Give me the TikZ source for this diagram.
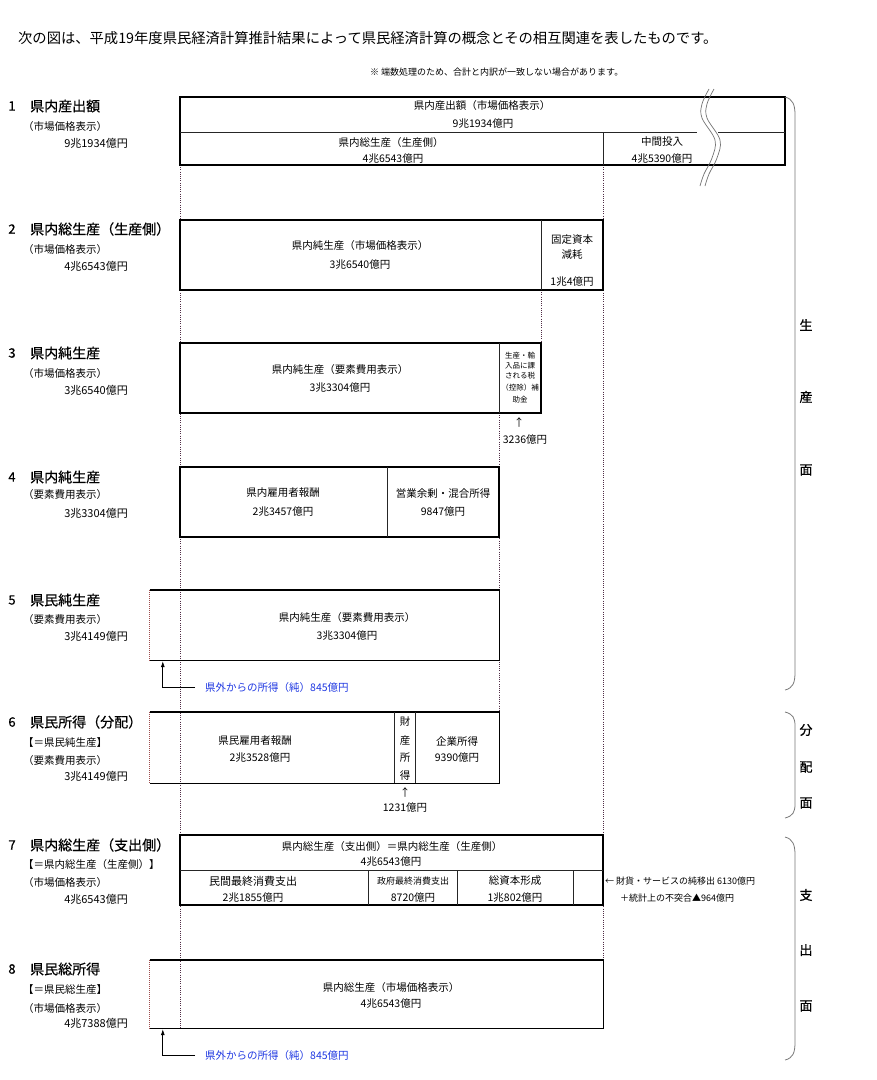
\documentclass[tikz,border=0pt]{standalone}
\usepackage{fontspec}
\newfontfamily\jp{Noto Sans CJK JP}
\newfontfamily\jpb[FakeBold=0.6]{Noto Sans CJK JP}
\usetikzlibrary{arrows.meta}
\definecolor{linkblue}{RGB}{30,55,225}
\definecolor{dotc}{RGB}{80,45,70}
\definecolor{brc}{RGB}{120,120,120}
\begin{document}
\begin{tikzpicture}[x=1pt,y=-1pt,
  tx/.style={font=\jp\fontsize{10.5}{12}\selectfont, inner sep=0pt},
  sm/.style={font=\jp\fontsize{9}{10}\selectfont, inner sep=0pt},
  tny/.style={font=\jp\fontsize{7.5}{9}\selectfont, inner sep=0pt},
  ttl/.style={font=\jpb\fontsize{14}{16}\selectfont, inner sep=0pt, anchor=west},
  sublbl/.style={font=\jp\fontsize{10.5}{12}\selectfont, inner sep=0pt, anchor=west},
  amt/.style={font=\jp\fontsize{11}{12}\selectfont, inner sep=0pt, anchor=east},
  numl/.style={font=\jpb\fontsize{13}{14}\selectfont, inner sep=0pt},
  blu/.style={font=\jp\fontsize{10.5}{12}\selectfont, inner sep=0pt, anchor=west, text=linkblue},
  bx/.style={draw=black, line width=1.4pt, inner sep=0pt},
  bxn/.style={inner sep=0pt},
  bxline/.style={draw=black, line width=1.4pt},
  dv/.style={draw=black!85, line width=0.7pt},
  dotl/.style={draw=dotc, line width=0.7pt, dash pattern=on 1pt off 1.2pt},
  dotm/.style={draw=red!45!black!70, line width=0.9pt, dash pattern=on 1pt off 1pt},
  arr/.style={draw=black, line width=0.7pt, -{Latex[length=6pt,width=4pt]}},
  brline/.style={draw=brc, line width=0.8pt},
  wav/.style={draw=black!55, line width=0.7pt},
  sidel/.style={font=\jpb\fontsize{13}{14}\selectfont, inner sep=0pt},
]
\useasboundingbox (0,0) rectangle (877,1080);

% header
\node[font=\jp\fontsize{14.3}{16}\selectfont, inner sep=0pt, anchor=west] (hdr) at (18,38)
  {次の図は、平成19年度県民経済計算推計結果によって県民経済計算の概念とその相互関連を表したものです。};
\node[sm, anchor=west] (note) at (370,72) {※ 端数処理のため、合計と内訳が一致しない場合があります。};

% dotted guide lines
\draw[dotl] (180,165) -- (180,1028);
\draw[dotl] (603,165) -- (603,960);
\draw[dotl] (541,290) -- (541,343);
\draw[dotl] (499,413) -- (499,712);

% ---------- Row 1
\node[bx, minimum width=605pt, minimum height=68pt] (b1) at (482.5,131) {};
\draw[dv] (180,132) -- (697,132);
\draw[dv] (718,132) -- (785,132);
\draw[dv] (603,132) -- (603,165);
\node[tx] (t1a) at (482,106) {県内産出額（市場価格表示）};
\node[tx] (t1b) at (483,124) {9兆1934億円};
\node[tx] (t1c) at (391,143) {県内総生産（生産側）};
\node[tx] (t1d) at (393,159) {4兆6543億円};
\node[tx] (t1e) at (662,142) {中間投入};
\node[tx] (t1f) at (662,159) {4兆5390億円};
\draw[wav] plot[smooth, tension=0.6] coordinates {(709,89) (702,104) (702,118) (715,140) (712,158) (704,174) (700,186)};
\draw[wav] plot[smooth, tension=0.6] coordinates {(714,89) (707,104) (707,118) (720,140) (717,158) (709,174) (705,186)};

\node[numl] (n1) at (12,106) {1};
\node[ttl] (l1) at (30,106) {県内産出額};
\node[sublbl] (s1) at (23,127) {（市場価格表示）};
\node[amt] (a1) at (128,143) {9兆1934億円};

% ---------- Row 2
\node[bx, minimum width=423pt, minimum height=70pt] (b2) at (391.5,255) {};
\draw[dv] (541,220) -- (541,290);
\node[tx] (t2a) at (360,246) {県内純生産（市場価格表示）};
\node[tx] (t2b) at (360,265) {3兆6540億円};
\node[tx] (t2c) at (572,240) {固定資本};
\node[tx] (t2d) at (572,255) {減耗};
\node[tx] (t2e) at (572,282) {1兆4億円};

\node[numl] (n2) at (12,229) {2};
\node[ttl] (l2) at (30,229) {県内総生産（生産側）};
\node[sublbl] (s2) at (23,250) {（市場価格表示）};
\node[amt] (a2) at (128,266) {4兆6543億円};

% ---------- Row 3
\node[bx, minimum width=361pt, minimum height=70pt] (b3) at (360.5,378) {};
\draw[dv] (499,343) -- (499,413);
\node[tx] (t3a) at (340,370) {県内純生産（要素費用表示）};
\node[tx] (t3b) at (340,388) {3兆3304億円};
\node[tny] (t3c) at (520,356) {生産・輸};
\node[tny] (t3d) at (520,366) {入品に課};
\node[tny] (t3e) at (520,376) {される税};
\node[tny] (t3f) at (520,388) {（控除）補};
\node[tny] (t3g) at (520,400) {助金};
\node[tx] (t3h) at (519,422) {↑};
\node[tx] (t3i) at (525,440) {3236億円};

\node[numl] (n3) at (12,353) {3};
\node[ttl] (l3) at (30,353) {県内純生産};
\node[sublbl] (s3) at (23,374) {（市場価格表示）};
\node[amt] (a3) at (128,390) {3兆6540億円};

% ---------- Row 4
\node[bx, minimum width=319pt, minimum height=70pt] (b4) at (339.5,502) {};
\draw[dv] (387,467) -- (387,537);
\node[tx] (t4a) at (283,493) {県内雇用者報酬};
\node[tx] (t4b) at (283,512) {2兆3457億円};
\node[tx] (t4c) at (443,493) {営業余剰・混合所得};
\node[tx] (t4d) at (443,512) {9847億円};

\node[numl] (n4) at (12,477) {4};
\node[ttl] (l4) at (30,477) {県内純生産};
\node[sublbl] (s4) at (23,495) {（要素費用表示）};
\node[amt] (a4) at (128,513) {3兆3304億円};

% ---------- Row 5
\node[bxn, minimum width=349pt, minimum height=70pt] (b5) at (324.5,625) {};
\draw[bxline] (b5.north west) -- (b5.north east) -- (b5.south east) -- (b5.south west);
\draw[dotm] (b5.north west) -- (b5.south west);
\node[tx] (t5a) at (347,617) {県内純生産（要素費用表示）};
\node[tx] (t5b) at (347,636) {3兆3304億円};
\node[blu] (e5) at (205,687) {県外からの所得（純）845億円};
\draw[arr] ([xshift=-10pt]e5.west) -| ([xshift=13pt,yshift=-1pt]b5.south west);

\node[numl] (n5) at (12,600) {5};
\node[ttl] (l5) at (30,600) {県民純生産};
\node[sublbl] (s5) at (23,619) {（要素費用表示）};
\node[amt] (a5) at (128,636) {3兆4149億円};

% ---------- Row 6
\node[bxn, minimum width=349pt, minimum height=71pt] (b6) at (324.5,747.5) {};
\draw[bxline] (b6.north west) -- (b6.north east) -- (b6.south east) -- (b6.south west);
\draw[dotm] (b6.north west) -- (b6.south west);
\draw[dv] (394,712) -- (394,783);
\draw[dv] (415,712) -- (415,783);
\node[tx] (t6a) at (255,741) {県民雇用者報酬};
\node[tx] (t6b) at (260,758) {2兆3528億円};
\node[tx] (t6c) at (405,722) {財};
\node[tx] (t6d) at (405,740) {産};
\node[tx] (t6e) at (405,758) {所};
\node[tx] (t6f) at (405,776) {得};
\node[tx] (t6g) at (457,741) {企業所得};
\node[tx] (t6h) at (457,758) {9390億円};
\node[tx] (t6i) at (405,792) {↑};
\node[tx] (t6j) at (405,808) {1231億円};

\node[numl] (n6) at (12,722) {6};
\node[ttl] (l6) at (30,722) {県民所得（分配）};
\node[sublbl] (s6a) at (23,742) {【＝県民純生産】};
\node[sublbl] (s6b) at (23,760) {（要素費用表示）};
\node[amt] (a6) at (128,776) {3兆4149億円};

% ---------- Row 7
\node[bx, minimum width=423pt, minimum height=70pt] (b7) at (391.5,870) {};
\draw[dv] (180,870) -- (603,870);
\draw[dv] (368,870) -- (368,905);
\draw[dv] (457,870) -- (457,905);
\draw[dv] (573,870) -- (573,905);
\node[tx] (t7a) at (392,846) {県内総生産（支出側）＝県内総生産（生産側）};
\node[tx] (t7b) at (391,862) {4兆6543億円};
\node[font=\jp\fontsize{11}{12}\selectfont, inner sep=0pt] (t7c) at (253,881) {民間最終消費支出};
\node[tx] (t7d) at (253,898) {2兆1855億円};
\node[sm] (t7e) at (413,881) {政府最終消費支出};
\node[tx] (t7f) at (413,898) {8720億円};
\node[tx] (t7g) at (515,881) {総資本形成};
\node[tx] (t7h) at (515,898) {1兆802億円};
\node[sm, anchor=west] (t7i) at (605,881) {← 財貨・サービスの純移出 6130億円};
\node[sm, anchor=west] (t7j) at (620,898) {＋統計上の不突合▲964億円};

\node[numl] (n7) at (12,845) {7};
\node[ttl] (l7) at (30,845) {県内総生産（支出側）};
\node[sublbl] (s7a) at (23,864) {【＝県内総生産（生産側）】};
\node[sublbl] (s7b) at (23,882) {（市場価格表示）};
\node[amt] (a7) at (128,899) {4兆6543億円};

% ---------- Row 8
\node[bxn, minimum width=453pt, minimum height=68pt] (b8) at (376.5,994) {};
\draw[bxline] (b8.north west) -- (b8.north east) -- (b8.south east) -- (b8.south west);
\draw[dotm] (b8.north west) -- (b8.south west);
\node[tx] (t8a) at (391,987) {県内総生産（市場価格表示）};
\node[tx] (t8b) at (391,1004) {4兆6543億円};
\node[blu] (e8) at (205,1055) {県外からの所得（純）845億円};
\draw[arr] ([xshift=-10pt]e8.west) -| ([xshift=13pt,yshift=-1pt]b8.south west);

\node[numl] (n8) at (12,969) {8};
\node[ttl] (l8) at (30,969) {県民総所得};
\node[sublbl] (s8a) at (23,989) {【＝県民総生産】};
\node[sublbl] (s8b) at (23,1008) {（市場価格表示）};
\node[amt] (a8) at (128,1023) {4兆7388億円};

% ---------- side braces
\draw[brline] (785,97) .. controls (793,99) and (795,105) .. (795,115) -- (795,672) .. controls (795,683) and (793,688) .. (785,690);
\draw[brline] (785,712) .. controls (793,714) and (795,718) .. (795,726) -- (795,804) .. controls (795,812) and (793,816) .. (785,818);
\draw[brline] (785,837) .. controls (793,839) and (795,845) .. (795,855) -- (795,1042) .. controls (795,1053) and (793,1058) .. (785,1060);
\node[sidel] (p1) at (806,325) {生};
\node[sidel] (p2) at (806,397) {産};
\node[sidel] (p3) at (806,470) {面};
\node[sidel] (q1) at (806,730) {分};
\node[sidel] (q2) at (806,767) {配};
\node[sidel] (q3) at (806,803) {面};
\node[sidel] (r1) at (806,895) {支};
\node[sidel] (r2) at (806,950) {出};
\node[sidel] (r3) at (806,1006) {面};
\end{tikzpicture}
\end{document}
